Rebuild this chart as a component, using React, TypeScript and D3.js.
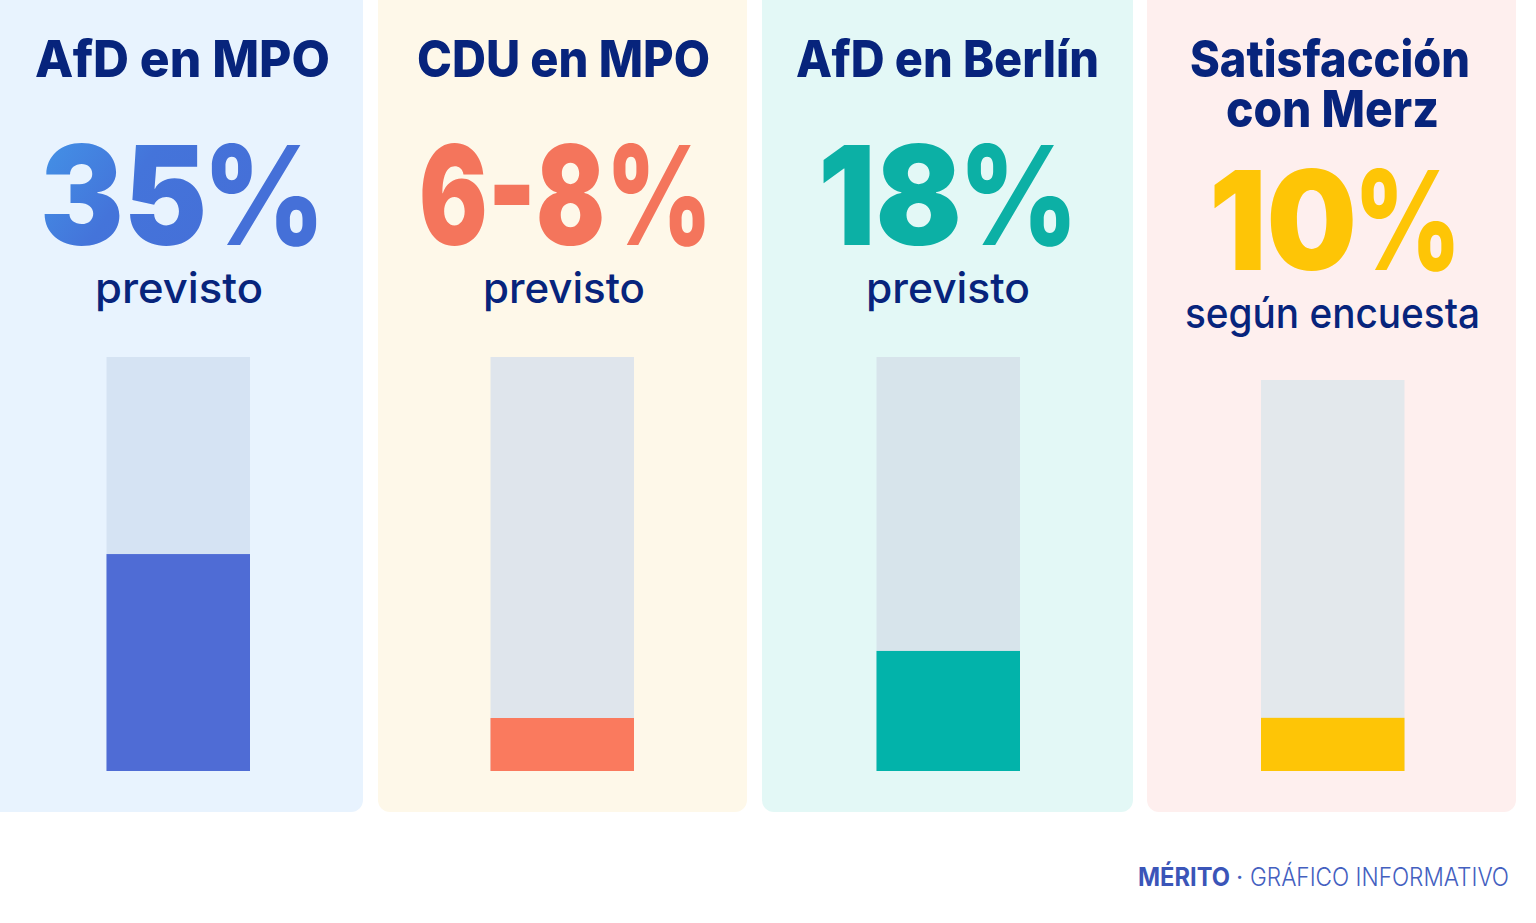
import React from "react";
import * as d3 from "d3";

const titles = [["AfD en MPO"], ["CDU en MPO"], ["AfD en Berlín"], ["Satisfacción", "con Merz"]];
const figures = ["35", "6-8", "18", "10"];
const unit = "%";
const captions = ["previsto", "previsto", "previsto", "según encuesta"];
const fillShares = [0.524, 0.128, 0.29, 0.136];
const cardColors = ["#e8f3fe", "#fef8e9", "#e3f8f6", "#feefee"];
const figureColors = ["url(#blueGrad)", "#f4755c", "#0cb0a5", "#fec506"];
const barColors = ["#4f6cd5", "#fa7a5e", "#02b3aa", "#fec506"];
const trackColors = ["#d5e3f3", "#dfe5ec", "#d7e4eb", "#e3e8ec"];

const cardLefts = [-12, 378, 762, 1147];
const cardRights = [363, 747, 1133, 1516];
const barLefts = [106.5, 490.5, 876.5, 1261];
const barW = 143.5;
const ink = "#07247c";
const font = "Inter, 'Liberation Sans', sans-serif";

// horizontal extents of each text, layout only
const titleExtents = [[[35, 330]], [[417, 710]], [[796, 1099]], [[1190, 1470], [1226, 1439]]];
const figureExtents = [[40, 207], [419, 605], [818, 962], [1209, 1357]];
const unitExtents = [[202, 326], [605, 713], [958, 1079], [1353, 1462]];
const captionExtents = [[95, 263], [483, 645], [866, 1030], [1185, 1480]];

function Fit({ ext, ...rest }: any) {
  return <text x={ext[0]} textLength={ext[1] - ext[0]} lengthAdjust="spacingAndGlyphs" {...rest} />;
}

export default function App() {
  const W = 1536, H = 923;
  return (
    <svg width={W} height={H} viewBox={`0 0 ${W} ${H}`}
      style={{ position: "fixed", left: 0, top: 0, background: "#fff" }} fontFamily={font}>
      <defs>
        <linearGradient id="blueGrad" gradientUnits="userSpaceOnUse" x1="45" y1="140" x2="200" y2="250">
          <stop offset="0" stopColor="#4391e6" />
          <stop offset="0.5" stopColor="#4474da" />
          <stop offset="1" stopColor="#4570d8" />
        </linearGradient>
      </defs>
      {titles.map((t, i) => {
        const two = t.length > 1;
        const shift = two ? 25 : 0;
        const trackTop = 357 + (two ? 23 : 0);
        const y = d3.scaleLinear().domain([0, 1]).range([771, trackTop]);
        return (
          <g key={i}>
            <rect x={cardLefts[i]} y={-20} width={cardRights[i] - cardLefts[i]} height={832} rx={12} fill={cardColors[i]} />
            {t.map((line, j) => (
              <Fit key={j} ext={titleExtents[i][j]} y={77 + j * 50} fontSize={51} fontWeight={800} fill={ink}>{line}</Fit>
            ))}
            <Fit ext={figureExtents[i]} y={245 + shift} fontSize={138} fontWeight={900} fill={figureColors[i]}>{figures[i]}</Fit>
            <Fit ext={unitExtents[i]} y={245 + shift} fontSize={138} fontWeight={800} fill={figureColors[i]}>{unit}</Fit>
            <Fit ext={captionExtents[i]} y={303 + shift} fontSize={42} fontWeight={500} fill={ink}>{captions[i]}</Fit>
            <rect x={barLefts[i]} y={trackTop} width={barW} height={771 - trackTop} fill={trackColors[i]} />
            <rect x={barLefts[i]} y={y(fillShares[i])} width={barW} height={771 - y(fillShares[i])} fill={barColors[i]} />
          </g>
        );
      })}
      <Fit ext={[1138, 1230]} y={886} fontSize={25} fontWeight={700} fill="#3b55b8">MÉRITO</Fit>
      <text x={1236} y={886} fontSize={25} fontWeight={400} fill="#4460bf">·</text>
      <Fit ext={[1250, 1509]} y={886} fontSize={25} fontWeight={300} fill="#4460bf">GRÁFICO INFORMATIVO</Fit>
    </svg>
  );
}
